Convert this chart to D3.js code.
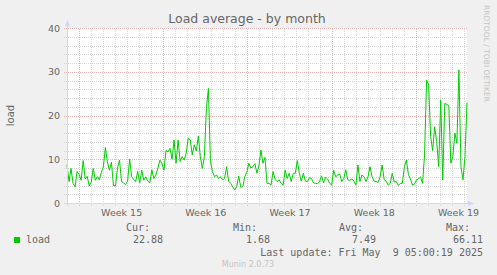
<!DOCTYPE html>
<html>
<head>
<meta charset="utf-8">
<script src="https://cdn.jsdelivr.net/npm/d3@7"></script>
<style>
  body { margin: 0; background: #f0f0f0; }
  svg { display: block; font-family: "DejaVu Sans", sans-serif; }
  .mono { font-family: "DejaVu Sans Mono", monospace; }
</style>
</head>
<body>
<svg id="chart"></svg>
<script>
// load average samples, evenly spaced over the month window
const loadValues = [
  8.7, 4.9, 7.9, 4.5, 3.7, 7.2, 6.5, 5.2, 9.7, 5.5,
  6.1, 3.9, 4.8, 7.9, 5.2, 6.0, 5.3, 7.0, 8.3, 12.7,
  9.4, 7.5, 9.3, 4.0, 3.9, 8.0, 9.8, 4.9, 4.6, 4.2,
  5.0, 10.0, 6.0, 5.4, 4.9, 7.2, 4.6, 7.5, 5.2, 6.0,
  5.0, 4.6, 7.6, 5.6, 6.4, 8.0, 9.8, 9.0, 7.5, 12.0,
  11.7, 12.5, 10.0, 14.4, 9.1, 14.4, 9.5, 10.6, 9.8, 11.4,
  14.8, 14.4, 11.0, 13.3, 11.9, 15.3, 10.6, 7.9, 10.6, 21.6,
  26.2, 9.5, 7.2, 6.0, 6.4, 5.6, 6.0, 5.3, 5.6, 8.3,
  5.0, 4.5, 3.7, 3.0, 3.7, 6.2, 3.6, 3.7, 6.0, 7.0,
  9.1, 8.0, 8.3, 9.0, 6.8, 8.5, 12.1, 9.1, 10.4,
  4.5, 4.5, 4.1, 7.2, 5.4, 4.9, 5.3, 4.5, 4.1, 7.5,
  5.6, 6.8, 4.9, 6.8, 6.8, 9.7, 6.8, 5.0, 6.8, 5.0,
  4.9, 5.8, 5.6, 4.6, 4.5, 4.4, 4.9, 6.2, 4.6, 5.9,
  5.5, 4.5, 4.1, 7.5, 6.0, 6.4, 6.6, 4.9, 5.6, 7.6,
  5.3, 5.2, 5.5, 5.0, 4.1, 8.7, 4.9, 6.4, 6.0, 4.9,
  6.0,
  8.3, 6.0, 5.0, 4.9, 4.7, 6.0, 8.7, 5.3, 5.0, 4.1,
  4.5, 6.8, 4.8, 4.9, 4.0, 4.5, 4.5, 8.3, 9.8, 6.5,
  5.5, 4.1, 4.3, 5.3, 5.5, 6.0, 4.5, 11.0, 28.1, 27.0,
  15.2, 12.0, 17.4, 14.0, 8.3, 23.5, 5.3, 22.8, 22.5, 22.3,
  9.1, 10.6, 16.0, 13.7, 30.4, 8.3, 5.3, 10.6, 22.9
];

const yTickValues = [0, 10, 20, 30, 40];
const yMajorGrid = [10, 20, 30, 40];
const yMinorValues = [2, 4, 6, 8, 12, 14, 16, 18, 22, 24, 26, 28, 32, 34, 36, 38];
const startTime = new Date(Date.UTC(2025, 3, 6, 0, 0));
const endTime = new Date(Date.UTC(2025, 4, 9, 6, 0));

const legendName = "load";
const legendHeaders = ["Cur:", "Min:", "Avg:", "Max:"];
const legendValues = ["22.88", "1.68", "7.49", "66.11"];
const lastUpdate = "Last update: Fri May  9 05:00:19 2025";

const width = 497;
const height = 275;
const plotLeft = 67, plotRight = 467, plotTop = 28, plotBottom = 203;
const lineColor = "#00cc00";
const axisColor = "#cfd6f8";

const svg = d3.select("#chart").attr("width", width).attr("height", height);

svg.append("rect").attr("width", width).attr("height", height).attr("fill", "#f0f0f0");

const xScale = d3.scaleUtc().domain([startTime, endTime]).range([plotLeft, plotRight]);
const yScale = d3.scaleLinear().domain([0, 40]).range([plotBottom, plotTop]);

const step = (endTime - startTime) / (loadValues.length - 1);
const data = loadValues.map((v, i) => ({ t: new Date(+startTime + i * step), v: v }));

// canvas
svg.append("rect")
   .attr("x", plotLeft).attr("y", plotTop)
   .attr("width", plotRight - plotLeft).attr("height", plotBottom - plotTop)
   .attr("fill", "#ffffff");

// grid
const days = d3.utcDay.range(d3.utcDay.offset(startTime, 1), endTime);
const mondays = d3.utcMonday.range(startTime, endTime);
const minorDays = days.filter(d => d.getUTCDay() !== 1);

const gridStyle = (g, color) => {
    g.select(".domain").remove();
    g.selectAll("line")
     .attr("stroke", color)
     .attr("stroke-dasharray", "1,1")
     .attr("shape-rendering", "crispEdges");
};

svg.append("g")
   .attr("transform", "translate(" + (plotLeft - 3) + ",0)")
   .call(d3.axisLeft(yScale).tickValues(yMinorValues).tickSize(-(plotRight - plotLeft + 3)).tickFormat(""))
   .call(g => gridStyle(g, "#d6d6d6"));

svg.append("g")
   .attr("transform", "translate(0," + (plotBottom + 3) + ")")
   .call(d3.axisBottom(xScale).tickValues(minorDays).tickSize(-(plotBottom - plotTop + 3)).tickFormat(""))
   .call(g => gridStyle(g, "#d6d6d6"));

svg.append("g")
   .attr("transform", "translate(" + (plotLeft - 3) + ",0)")
   .call(d3.axisLeft(yScale).tickValues(yMajorGrid).tickSize(-(plotRight - plotLeft + 3)).tickFormat(""))
   .call(g => gridStyle(g, "#eab4b4"));

svg.append("g")
   .attr("transform", "translate(0," + (plotBottom + 3) + ")")
   .call(d3.axisBottom(xScale).tickValues(mondays).tickSize(-(plotBottom - plotTop + 3)).tickFormat(""))
   .call(g => gridStyle(g, "#eab4b4"));

// line
const line = d3.line()
    .x(d => xScale(d.t))
    .y(d => yScale(d.v));

svg.append("path")
   .datum(data)
   .attr("d", line)
   .attr("fill", "none")
   .attr("stroke", lineColor)
   .attr("stroke-width", 1);

// axes lines with arrows
svg.append("line")
   .attr("x1", plotLeft + 0.5).attr("x2", plotLeft + 0.5)
   .attr("y1", plotBottom + 3).attr("y2", plotTop - 3)
   .attr("stroke", axisColor);
svg.append("path")
   .attr("d", `M${plotLeft - 2},${plotTop - 2} L${plotLeft + 3},${plotTop - 2} L${plotLeft + 0.5},${plotTop - 8} Z`)
   .attr("fill", axisColor);

svg.append("line")
   .attr("x1", plotLeft - 3).attr("x2", plotRight + 3)
   .attr("y1", plotBottom + 0.5).attr("y2", plotBottom + 0.5)
   .attr("stroke", axisColor);
svg.append("path")
   .attr("d", `M${plotRight + 1},${plotBottom - 2} L${plotRight + 1},${plotBottom + 3} L${plotRight + 7},${plotBottom + 0.5} Z`)
   .attr("fill", axisColor);

// y tick labels
svg.append("g")
   .attr("transform", "translate(" + plotLeft + ",0)")
   .call(d3.axisLeft(yScale).tickValues(yTickValues).tickSize(0).tickPadding(7))
   .call(g => {
       g.select(".domain").remove();
       g.selectAll("text")
        .attr("fill", "#666")
        .attr("font-size", "9.5px")
        .attr("font-family", "DejaVu Sans, sans-serif");
   });

// week labels
const weekFmt = d3.utcFormat("%V");
const weekCenters = mondays.map(m => new Date(+m + 3.5 * 864e5));
svg.append("g")
   .attr("transform", "translate(0," + plotBottom + ")")
   .call(d3.axisBottom(xScale).tickValues(weekCenters).tickSize(0).tickPadding(6)
           .tickFormat(d => "Week " + weekFmt(d)))
   .call(g => {
       g.select(".domain").remove();
       g.selectAll("text")
        .attr("fill", "#666")
        .attr("font-size", "9.5px")
        .attr("font-family", "DejaVu Sans, sans-serif");
   });

// title
svg.append("text")
   .attr("x", 247).attr("y", 23)
   .attr("text-anchor", "middle")
   .attr("font-size", "12.5px")
   .attr("fill", "#666")
   .text("Load average - by month");

// y label
svg.append("text")
   .attr("transform", "translate(14," + ((plotTop + plotBottom) / 2) + ") rotate(-90)")
   .attr("text-anchor", "middle")
   .attr("font-size", "10px")
   .attr("fill", "#666")
   .text("load");

// watermark
svg.append("text")
   .attr("transform", "translate(484,5) rotate(90)")
   .attr("font-size", "7.5px")
   .attr("fill", "#c4c4c4")
   .attr("textLength", 97)
   .text("RRDTOOL / TOBI OETIKER");

// legend
const colEnds = [150, 257, 363, 470];
const valEnds = [163, 270, 376, 483];

svg.selectAll(".hdr")
   .data(legendHeaders)
   .enter()
   .append("text")
   .attr("class", "mono hdr")
   .attr("x", (d, i) => colEnds[i]).attr("y", 231)
   .attr("text-anchor", "end")
   .attr("font-size", "10px")
   .attr("fill", "#666")
   .text(d => d);

svg.selectAll(".val")
   .data(legendValues)
   .enter()
   .append("text")
   .attr("class", "mono val")
   .attr("x", (d, i) => valEnds[i]).attr("y", 243)
   .attr("text-anchor", "end")
   .attr("font-size", "10px")
   .attr("fill", "#666")
   .text(d => d);

svg.append("rect")
   .attr("x", 14).attr("y", 237)
   .attr("width", 6).attr("height", 6)
   .attr("fill", lineColor);

svg.append("text")
   .attr("class", "mono")
   .attr("x", 26).attr("y", 243)
   .attr("font-size", "10px")
   .attr("fill", "#666")
   .text(legendName);

svg.append("text")
   .attr("class", "mono")
   .attr("x", 483).attr("y", 256)
   .attr("text-anchor", "end")
   .attr("font-size", "10px")
   .attr("fill", "#666")
   .attr("xml:space", "preserve")
   .style("white-space", "pre")
   .text(lastUpdate);

svg.append("text")
   .attr("x", 248).attr("y", 267)
   .attr("text-anchor", "middle")
   .attr("font-size", "8px")
   .attr("fill", "#c4c4c4")
   .text("Munin 2.0.73");
</script>
</body>
</html>
